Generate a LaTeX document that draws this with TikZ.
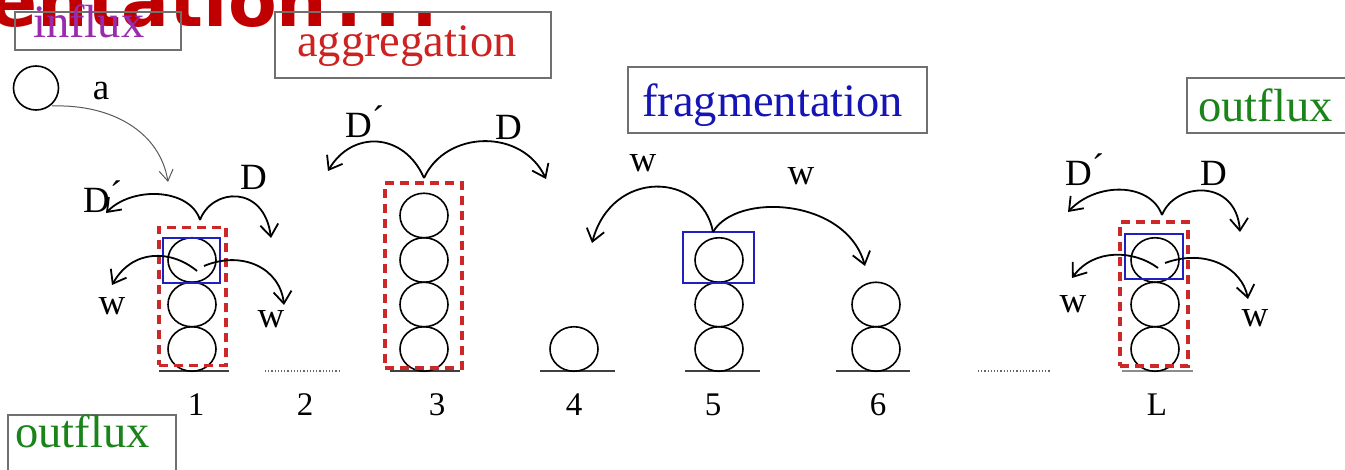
\documentclass[tikz,border=0pt]{standalone}
\usepackage{fontspec}
\setmainfont{Liberation Serif}
\newfontfamily\titlefont{DejaVu Sans}
\usetikzlibrary{arrows.meta,shapes.geometric}
\definecolor{titlered}{HTML}{C00000}
\definecolor{aggred}{HTML}{CC2222}
\definecolor{fragblue}{HTML}{1515B5}
\definecolor{outgreen}{HTML}{1A841A}
\definecolor{influxpurple}{HTML}{9A2AAE}
\definecolor{boxgray}{HTML}{707070}
\definecolor{dashred}{HTML}{CC2828}
\definecolor{selblue}{HTML}{2020C0}
\newcommand{\dprime}{D\raisebox{0.18em}{´}}
\tikzset{
  ball/.style={ellipse, draw=black, line width=1.6pt, minimum width=48pt, minimum height=44.5pt, inner sep=0pt},
  ground/.style={line width=1.3pt, draw=black!75},
  dots/.style={line width=1.2pt, dotted, draw=black!60},
  tagbox/.style={draw=boxgray, line width=1.6pt, rectangle, inner sep=0pt},
  tagtext/.style={font=\fontsize{46.5}{52}\selectfont, anchor=base west, inner sep=0pt},
  lbl/.style={font=\fontsize{37}{42}\selectfont, anchor=base, inner sep=0pt},
  num/.style={font=\fontsize{33}{38}\selectfont, anchor=base, inner sep=0pt},
  hop/.style={line width=1.8pt, -{Straight Barb[length=12pt,width=18pt,line width=1.8pt]}},
  thinhop/.style={line width=1pt, draw=black!65, -{Straight Barb[length=11pt,width=14pt,line width=1pt]}},
  cluster/.style={draw=dashred, line width=3.6pt, dash pattern=on 9pt off 6pt, rectangle, inner sep=0pt},
  pick/.style={draw=selblue, line width=1.6pt, rectangle, inner sep=0pt},
}
\begin{document}
\begin{tikzpicture}[x=1pt,y=-1pt]
\useasboundingbox (0,0) rectangle (1345,470);

% title fragment
\node[font=\titlefont\bfseries\fontsize{71}{80}\selectfont, text=titlered, anchor=base west, inner sep=0pt] (title) at (-11,27) {entation\kern 8pt.\kern 12pt.\kern 10pt.};

% tag boxes
\node[tagbox, minimum width=166pt, minimum height=38pt] (influxbox) at (98,31) {};
\node[tagtext, text=influxpurple] (influxtxt) at (33,38) {influx};
\node[tagbox, minimum width=276pt, minimum height=66pt] (aggbox) at (413,45) {};
\node[tagtext, text=aggred] (aggtxt) at (297,57) {aggregation};
\node[tagbox, minimum width=299pt, minimum height=66pt] (fragbox) at (777.5,100) {};
\node[tagtext, text=fragblue] (fragtxt) at (642,117) {fragmentation};
\node[tagbox, minimum width=200pt, minimum height=55pt] (outbox1) at (1287,105.5) {};
\node[tagtext, text=outgreen] (outtxt1) at (1198,122) {outflux};
\node[tagbox, minimum width=168pt, minimum height=80pt] (outbox2) at (92,455) {};
\node[tagtext, text=outgreen] (outtxt2) at (15,447) {outflux};

% influx particle
\node[ball, minimum width=45pt, minimum height=44pt] (inball) at (36,88) {};
\node[lbl] (alab) at (101,100) {a};
\coordinate (ins) at (52,106);
\coordinate (inT) at (168,182);
\draw[thinhop] (ins) .. controls (112,104) and (160,132) .. (inT);

% ground lines
\draw[ground] (159,371) -- (229,371);
\draw[dots] (265,371) -- (340,371);
\draw[ground] (390,371) -- (460,371);
\draw[ground] (540,371) -- (615,371);
\draw[ground] (685,371) -- (760,371);
\draw[ground] (836,371) -- (910,371);
\draw[dots] (978,371) -- (1050,371);
\draw[ground, draw=black!45] (1122,371) -- (1193,371);

% column 1
\node[ball] (c1a) at (192,349) {};
\node[ball] (c1b) at (192,304.5) {};
\node[ball] (c1c) at (192,260) {};
\node[cluster, minimum width=67pt, minimum height=138pt] (r1) at (192.5,296.5) {};
\node[pick, minimum width=57pt, minimum height=45pt] (b1) at (191.5,260.5) {};
\coordinate (s1) at (200,220);
\coordinate (t1L) at (106,213);
\coordinate (t1R) at (271,238);
\draw[hop] (s1) .. controls (190,188) and (132,186) .. (t1L);
\draw[hop] (s1) .. controls (212,188) and (264,184) .. (t1R);
\coordinate (s1wl) at (197,271);
\coordinate (s1wr) at (204,266);
\coordinate (t1wl) at (112,285);
\coordinate (t1wr) at (284,305);
\draw[hop] (s1wl) .. controls (172,250) and (133,248) .. (t1wl);
\draw[hop] (s1wr) .. controls (242,250) and (280,268) .. (t1wr);
\node[lbl, anchor=base west] (d1l) at (83,213) {\dprime};
\node[lbl, anchor=base west] (d1r) at (240,190) {D};
\node[lbl] (w1l) at (112,315) {w};
\node[lbl] (w1r) at (271,328) {w};

% column 3
\node[ball] (c3a) at (424,349) {};
\node[ball] (c3b) at (424,304.5) {};
\node[ball] (c3c) at (424,260) {};
\node[ball] (c3d) at (424,215.5) {};
\node[cluster, minimum width=77pt, minimum height=185pt] (r3) at (423.5,275.5) {};
\coordinate (s3) at (424,178);
\coordinate (t3L) at (328,171);
\coordinate (t3R) at (546,179);
\draw[hop] (s3) .. controls (404,132) and (352,130) .. (t3L);
\draw[hop] (s3) .. controls (446,130) and (522,128) .. (t3R);
\node[lbl, anchor=base west] (d3l) at (345,138) {\dprime};
\node[lbl, anchor=base west] (d3r) at (495,140) {D};

% column 4
\node[ball] (c4a) at (574,349) {};

% column 5
\node[ball] (c5a) at (719,349) {};
\node[ball] (c5b) at (719,304.5) {};
\node[ball] (c5c) at (719,260) {};
\node[pick, minimum width=71pt, minimum height=51pt] (b5) at (718.5,257.5) {};
\coordinate (s5) at (713,232);
\coordinate (t5L) at (592,243);
\coordinate (t5R) at (865,266);
\draw[hop] (s5) .. controls (702,172) and (612,168) .. (t5L);
\draw[hop] (s5) .. controls (736,192) and (846,198) .. (t5R);
\node[lbl] (w5l) at (643,172) {w};
\node[lbl] (w5r) at (801,185) {w};

% column 6
\node[ball] (c6a) at (876,349) {};
\node[ball] (c6b) at (876,304.5) {};

% column L
\node[ball] (cLa) at (1155,349) {};
\node[ball] (cLb) at (1155,304.5) {};
\node[ball] (cLc) at (1155,260) {};
\node[cluster, minimum width=68pt, minimum height=144pt] (rL) at (1154,294) {};
\node[pick, minimum width=58pt, minimum height=45pt] (bL) at (1154,256.5) {};
\coordinate (sL) at (1162,215);
\coordinate (tLL) at (1068,212);
\coordinate (tLR) at (1240,232);
\draw[hop] (sL) .. controls (1150,182) and (1096,182) .. (tLL);
\draw[hop] (sL) .. controls (1175,182) and (1236,178) .. (tLR);
\coordinate (sLwl) at (1158,268);
\coordinate (sLwr) at (1165,263);
\coordinate (tLwl) at (1072,278);
\coordinate (tLwr) at (1248,299);
\draw[hop] (sLwl) .. controls (1134,250) and (1094,248) .. (tLwl);
\draw[hop] (sLwr) .. controls (1206,248) and (1242,268) .. (tLwr);
\node[lbl, anchor=base west] (dLl) at (1065,186) {\dprime};
\node[lbl, anchor=base west] (dLr) at (1200,186) {D};
\node[lbl] (wLl) at (1073,313) {w};
\node[lbl] (wLr) at (1255,327) {w};

% column numbers
\node[num] (n1) at (196,416) {1};
\node[num] (n2) at (305,416) {2};
\node[num] (n3) at (437,416) {3};
\node[num] (n4) at (574,416) {4};
\node[num] (n5) at (713,416) {5};
\node[num] (n6) at (878,416) {6};
\node[num] (nL) at (1157,416) {L};
\end{tikzpicture}
\end{document}
